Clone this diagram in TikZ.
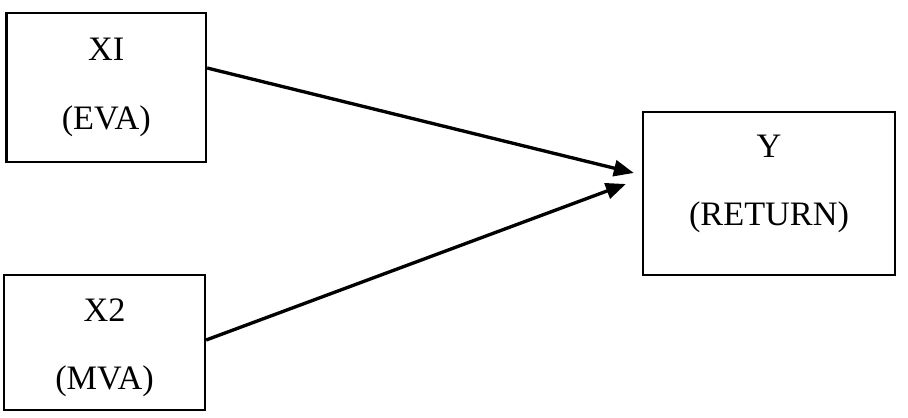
\documentclass[tikz,border=0pt]{standalone}
\usepackage{fontspec}
\setmainfont{Liberation Serif}
\usepackage{tikz}
\usetikzlibrary{positioning,arrows.meta,calc}
\definecolor{ink}{HTML}{000000}

\tikzset{
  varbox/.style={draw=ink, line width=1.3pt, rectangle, inner sep=0pt},
  vartext/.style={ink, align=center, inner sep=0pt,
    font=\fontsize{19.5pt}{39pt}\selectfont},
  effect/.style={->, ink, line width=1.9pt}
}

\begin{document}
\begin{tikzpicture}[>={Triangle[length=0.4cm,width=0.32cm]}]
        \useasboundingbox (0,0) rectangle (18.16,-8.34);
        % boxes
        \node[varbox, minimum width=3.99cm, minimum height=2.98cm] (x1) at (2.125,-1.75) {};
        \node[varbox, minimum width=4.02cm, minimum height=2.70cm] (x2) at (2.09,-6.85) {};
        \node[varbox, minimum width=5.04cm, minimum height=3.26cm] (y) at (15.38,-3.87) {};
        % labels
        \node[vartext] (x1txt) at (x1.center) {XI\\(EVA)};
        \node[vartext] (x2txt) at ([yshift=-0.11cm]x2.center) {X2\\(MVA)};
        \node[vartext] (ytxt) at ([yshift=0.19cm]y.center) {Y\\(RETURN)};
        % arrows
        \draw[effect] ([yshift=0.39cm]x1.east) -- ([xshift=-0.16cm,yshift=0.41cm]y.west);
        \draw[effect] ([yshift=0.05cm]x2.east) -- ([xshift=-0.32cm,yshift=0.19cm]y.west);
      \end{tikzpicture}
\end{document}
